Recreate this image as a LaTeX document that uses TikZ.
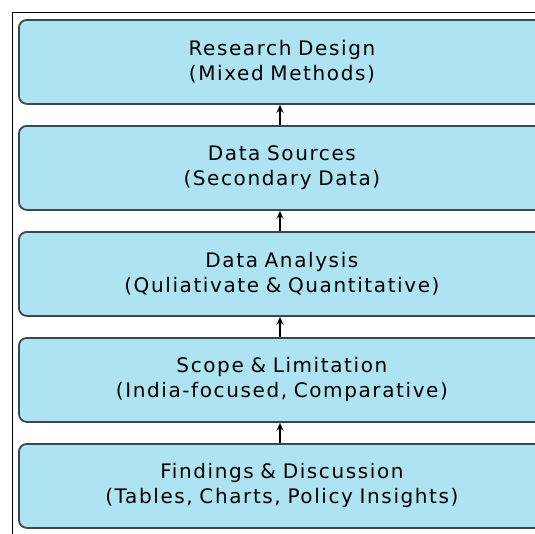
\documentclass[tikz,border=0pt]{standalone}
\usepackage{fontspec}
\setmainfont[LetterSpace=8,WordSpace=1.4]{DejaVu Sans}
\usetikzlibrary{arrows.meta}
\definecolor{boxfill}{HTML}{AEE4F1}
\definecolor{boxline}{HTML}{3A4852}
\tikzset{
  stage/.style={draw=boxline, line width=1.8pt, fill=boxfill, rounded corners=8pt,
    minimum width=526pt, minimum height=84pt, inner sep=0pt, align=center,
    font=\fontsize{20}{25}\selectfont, anchor=north west, text width=526pt},
  link/.style={-{Stealth[length=8pt,width=7pt]}, line width=1.4pt, black}
}
\begin{document}
\begin{tikzpicture}[x=1pt,y=-1pt]
\useasboundingbox (0,0) rectangle (535,533);
\clip (0,0) rectangle (535,533);
\fill[white] (0,0) rectangle (535,533);
\draw[line width=1pt, black] (12,540) -- (12,12) -- (540,12);
\node[stage] (a) at (18,19) {Research Design\\(Mixed Methods)};
\node[stage] (b) at (18,125) {Data Sources\\(Secondary Data)};
\node[stage] (c) at (18,231) {Data Analysis\\(Quliativate \& Quantitative)};
\node[stage] (d) at (18,337) {Scope \& Limitation\\(India-focused, Comparative)};
\node[stage] (e) at (18,443) {Findings \& Discussion\\(Tables, Charts, Policy Insights)};
\draw[link] (b.north -| 280,0) -- (a.south -| 280,0);
\draw[link] (c.north -| 280,0) -- (b.south -| 280,0);
\draw[link] (d.north -| 280,0) -- (c.south -| 280,0);
\draw[link] (e.north -| 280,0) -- (d.south -| 280,0);
\end{tikzpicture}
\end{document}
